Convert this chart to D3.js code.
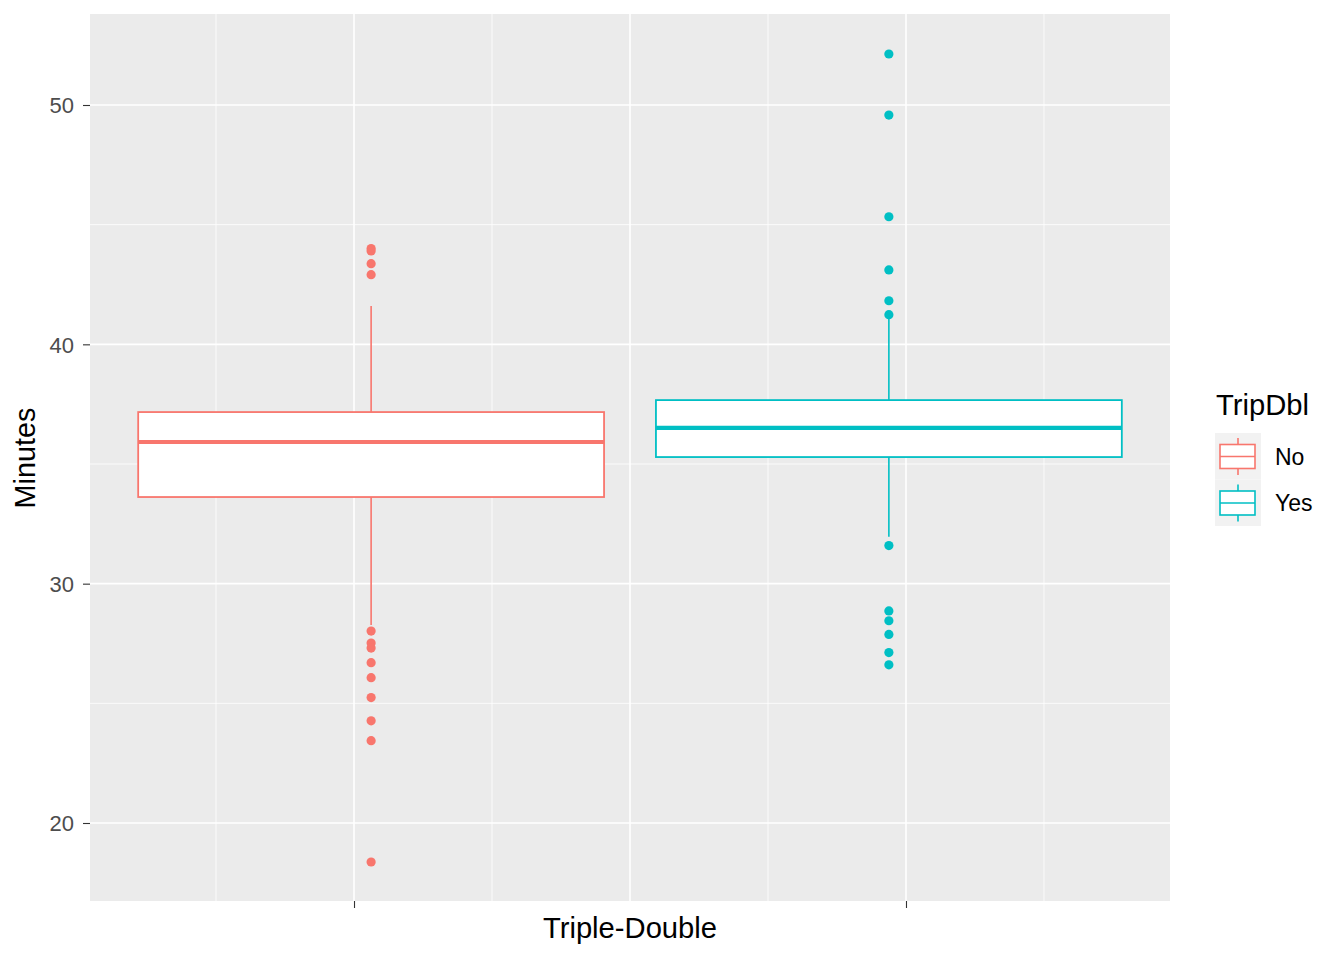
<!DOCTYPE html>
<html><head><meta charset="utf-8">
<script src="https://cdn.jsdelivr.net/npm/d3@7"></script>
<style>body{margin:0;background:#fff}svg{display:block}text{font-family:"Liberation Sans",Arial,sans-serif}</style>
</head><body><svg id="c" width="1344" height="960"></svg>
<script>
const groups = ["No", "Yes"];
const colors = ["#F8766D", "#00BFC4"];
const xPos = [1.031, 1.969];
const boxWidth = 0.844;
const lowerWhisker = [28.27, 31.96];
const q1 = [33.62, 35.29];
const median = [35.92, 36.51];
const q3 = [37.17, 37.67];
const upperWhisker = [41.60, 41.10];
const outliersNo = [44.00, 43.90, 43.37, 42.91, 28.02, 27.52, 27.31, 26.70, 26.07, 25.24, 24.27, 23.44, 18.37];
const outliersYes = [52.13, 49.58, 45.33, 43.11, 41.82, 41.24, 31.59, 28.86, 28.45, 27.88, 27.12, 26.61];
const yTicks = [20, 30, 40, 50];
const yMinor = [25, 35, 45];
const xMajor = [1, 1.5, 2];
const xMinor = [0.75, 1.25, 1.75, 2.25];
const xTicks = [1, 2];

const svg = d3.select("#c");
const L = 90, R = 1170, T = 14, B = 901;
const x = d3.scaleLinear().domain([0.5217, 2.4783]).range([L, R]);
const y = d3.scaleLinear().domain([20, 50]).range([823, 105]);

svg.append("rect").attr("x", L).attr("y", T).attr("width", R - L).attr("height", B - T).attr("fill", "#EBEBEB");
const g = svg.append("g");
yMinor.forEach(v => g.append("line").attr("x1", L).attr("x2", R).attr("y1", y(v)).attr("y2", y(v)).attr("stroke", "#fff").attr("stroke-width", 0.8));
xMinor.forEach(v => g.append("line").attr("y1", T).attr("y2", B).attr("x1", x(v)).attr("x2", x(v)).attr("stroke", "#fff").attr("stroke-width", 0.8));
yTicks.forEach(v => g.append("line").attr("x1", L).attr("x2", R).attr("y1", y(v)).attr("y2", y(v)).attr("stroke", "#fff").attr("stroke-width", 1.6));
xMajor.forEach(v => g.append("line").attr("y1", T).attr("y2", B).attr("x1", x(v)).attr("x2", x(v)).attr("stroke", "#fff").attr("stroke-width", 1.6));

// axes
const yAxis = d3.axisLeft(y).tickValues(yTicks).tickSize(7).tickPadding(9).tickFormat(d3.format("d"));
const ya = svg.append("g").attr("transform", `translate(${L},0)`).call(yAxis);
ya.select(".domain").remove();
ya.attr("font-size", null).attr("font-family", null);
ya.selectAll(".tick line").attr("stroke", "#333").attr("stroke-width", 1.1);
ya.selectAll(".tick text").attr("fill", "#4D4D4D").style("font-size", "22px").attr("dy", "0.35em");
const xAxis = d3.axisBottom(x).tickValues(xTicks).tickSize(7).tickFormat("");
const xa = svg.append("g").attr("transform", `translate(0,${B})`).call(xAxis);
xa.select(".domain").remove();
xa.selectAll(".tick line").attr("stroke", "#333").attr("stroke-width", 1.1);

svg.append("text").attr("x", 630).attr("y", 938).attr("text-anchor", "middle").style("font-size", "29.2px").attr("fill", "#000").text("Triple-Double");
svg.append("text").attr("transform", "translate(35,458) rotate(-90)").attr("text-anchor", "middle").style("font-size", "28.8px").attr("fill", "#000").text("Minutes");

// boxes
const outliers = [outliersNo, outliersYes];
groups.forEach((gname, i) => {
  const c = colors[i];
  const cx = x(xPos[i]);
  const x0 = x(xPos[i] - boxWidth / 2), x1 = x(xPos[i] + boxWidth / 2);
  const bg = svg.append("g");
  bg.append("line").attr("x1", cx).attr("x2", cx).attr("y1", y(upperWhisker[i])).attr("y2", y(q3[i])).attr("stroke", c).attr("stroke-width", 1.6);
  bg.append("line").attr("x1", cx).attr("x2", cx).attr("y1", y(q1[i])).attr("y2", y(lowerWhisker[i])).attr("stroke", c).attr("stroke-width", 1.6);
  bg.append("rect").attr("x", x0).attr("y", y(q3[i])).attr("width", x1 - x0).attr("height", y(q1[i]) - y(q3[i]))
    .attr("fill", "#fff").attr("stroke", c).attr("stroke-width", 1.8);
  bg.append("line").attr("x1", x0).attr("x2", x1).attr("y1", y(median[i])).attr("y2", y(median[i])).attr("stroke", c).attr("stroke-width", 4.2);
  bg.selectAll("circle").data(outliers[i]).join("circle")
    .attr("cx", cx).attr("cy", d => y(d)).attr("r", 4.6).attr("fill", c);
});

// legend
const lg = svg.append("g");
lg.append("text").attr("x", 1216).attr("y", 415).style("font-size", "29.2px").attr("fill", "#000").text("TripDbl");
groups.forEach((gname, i) => {
  const top = 433 + i * 46.5;
  const c = colors[i];
  lg.append("rect").attr("x", 1215).attr("y", top).attr("width", 46).attr("height", 46.5).attr("fill", "#F2F2F2");
  const mid = top + 23.5;
  lg.append("line").attr("x1", 1238).attr("x2", 1238).attr("y1", mid - 18.5).attr("y2", mid + 18.5).attr("stroke", c).attr("stroke-width", 1.6);
  lg.append("rect").attr("x", 1220).attr("y", mid - 12).attr("width", 35).attr("height", 24).attr("fill", "#fff").attr("stroke", c).attr("stroke-width", 1.6);
  lg.append("line").attr("x1", 1220).attr("x2", 1255).attr("y1", mid).attr("y2", mid).attr("stroke", c).attr("stroke-width", 1.6);
  lg.append("text").attr("x", 1275).attr("y", mid + 8).style("font-size", "23px").attr("fill", "#000").text(gname);
});
</script></body></html>
